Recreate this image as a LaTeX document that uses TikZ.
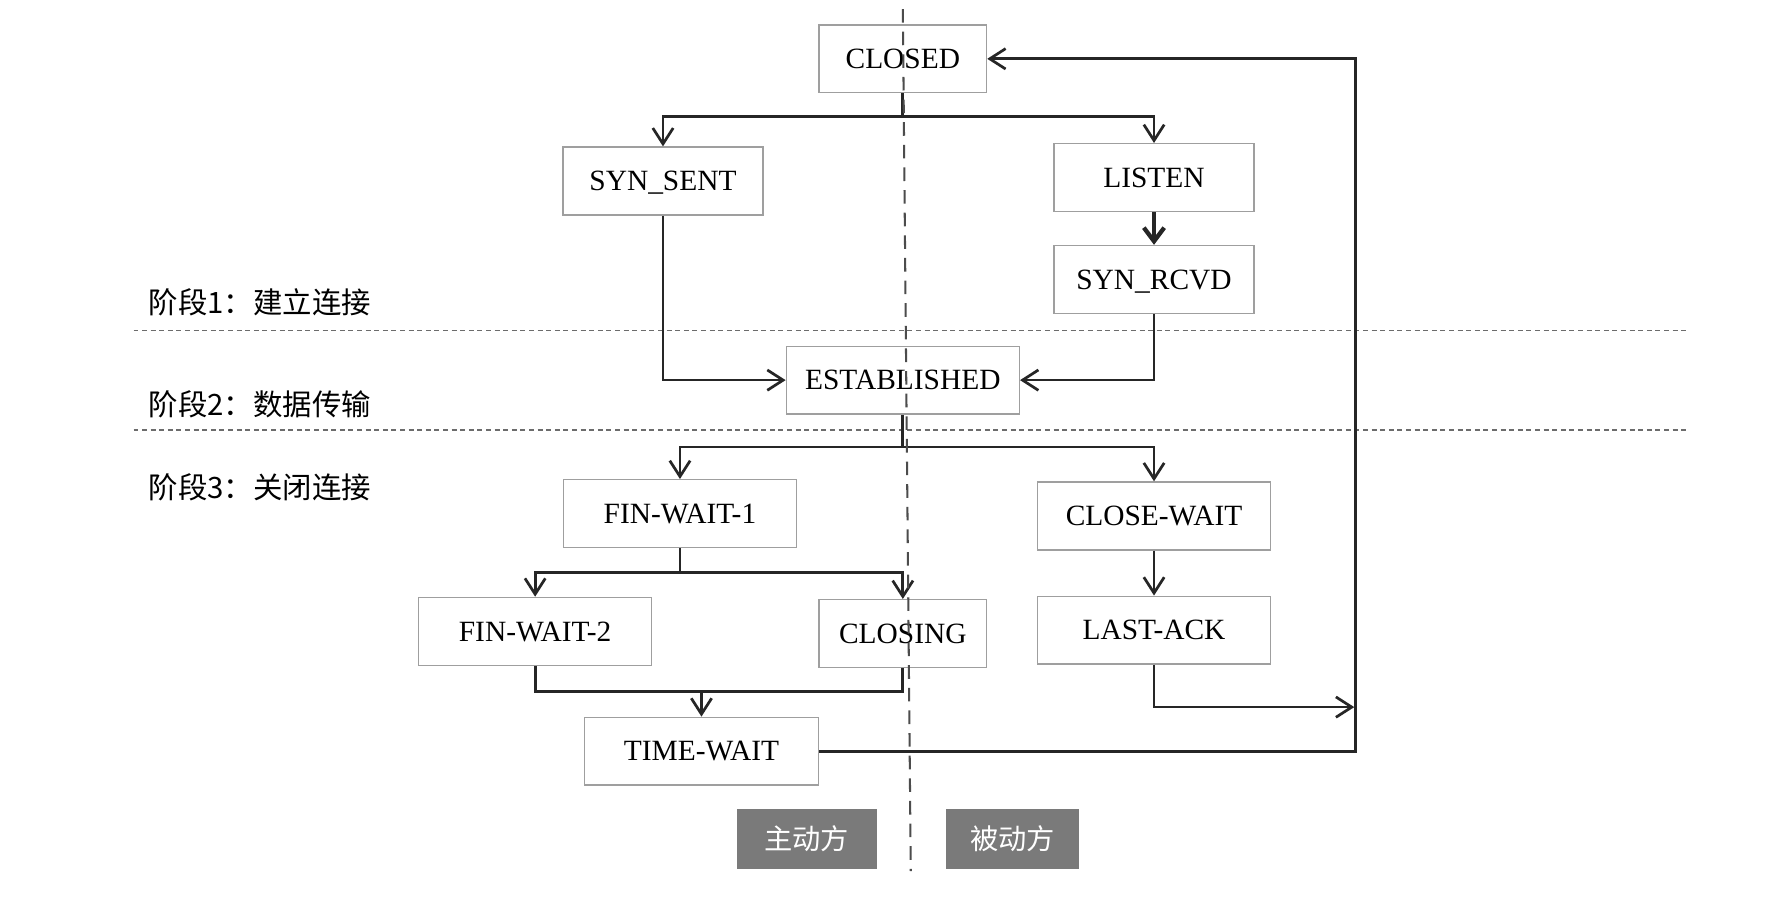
\documentclass[tikz,border=0pt]{standalone}
\usepackage{fontspec}
\setmainfont{Liberation Serif}
\newfontfamily\cjk{Noto Sans CJK SC}
\usetikzlibrary{arrows.meta}
\begin{document}
\begin{tikzpicture}[x=0.5pt,y=-0.5pt,
  state/.style={draw=gray!75,line width=0.6pt,fill=white,minimum height=30pt,inner sep=0pt,text depth=0pt,font=\fontsize{13}{15}\selectfont},
  conn/.style={line width=1.2pt,draw=black!85},
  arr/.style={conn,-{Straight Barb[length=7pt,width=9pt,line width=1.2pt]}},
  bigarr/.style={line width=1.9pt,draw=black!85,-{Straight Barb[length=6pt,width=9pt,line width=1.9pt]}},
  phase/.style={draw=gray!85!black,line width=0.55pt,dash pattern=on 2.2pt off 1.6pt},
  divider/.style={draw=black!70,line width=0.9pt,dash pattern=on 6pt off 4pt},
  stage/.style={anchor=west,inner sep=0pt,font=\cjk\fontsize{13}{15}\selectfont},
  role/.style={fill=black!52,text=white,minimum height=26.5pt,inner sep=0pt,font=\cjk\fontsize{12.5}{15}\selectfont}]
\useasboundingbox (0,0) rectangle (1568,795);
\fill[white] (0,0) rectangle (1568,795);

% phase separators
\draw[phase] (118,292) -- (1492,292);
\draw[phase] (118,380) -- (1492,380);

% stage labels
\node[stage] (s1) at (131,267) {阶段1：建立连接};
\node[stage] (s2) at (131,357) {阶段2：数据传输};
\node[stage] (s3) at (131,431) {阶段3：关闭连接};

% states
\node[state,minimum width=74pt] (closed) at (798,52) {CLOSED};
\node[state,minimum width=88.5pt] (synsent) at (586,160) {SYN\_SENT};
\node[state,minimum width=88.5pt] (listen) at (1020,157) {LISTEN};
\node[state,minimum width=88.5pt] (synrcvd) at (1020,247) {SYN\_RCVD};
\node[state,minimum width=103pt] (est) at (798,336) {ESTABLISHED};
\node[state,minimum width=103pt] (fw1) at (601,454) {FIN-WAIT-1};
\node[state,minimum width=103pt] (cw) at (1020,456) {CLOSE-WAIT};
\node[state,minimum width=103pt] (fw2) at (473,558) {FIN-WAIT-2};
\node[state,minimum width=74pt] (closing) at (798,560) {CLOSING};
\node[state,minimum width=103pt] (lastack) at (1020,557) {LAST-ACK};
\node[state,minimum width=103.5pt] (tw) at (620,664) {TIME-WAIT};

% role boxes
\node[role,minimum width=62pt] (active) at (713,741.5) {主动方};
\node[role,minimum width=59pt] (passive) at (895,741.5) {被动方};

% branch coordinates
\coordinate (b1) at (798,103);
\coordinate (b2) at (798,395);
\coordinate (b3) at (601,506);
\coordinate (m1) at (620,611);
\coordinate (ra) at (1197,625);
\coordinate (rr) at (1198,300);

% connectors
\draw[conn] (closed.south) -- (b1);
\draw[arr] (b1) -| (synsent.north);
\draw[arr] (b1) -| (listen.north);
\draw[bigarr] (listen.south) -- (synrcvd.north);
\draw[arr] (synsent.south) |- (est.west);
\draw[arr] (synrcvd.south) |- (est.east);
\draw[conn] (est.south) -- (b2);
\draw[arr] (b2) -| (fw1.north);
\draw[arr] (b2) -| (cw.north);
\draw[conn] (fw1.south) -- (b3);
\draw[arr] (b3) -| (fw2.north);
\draw[arr] (b3) -| (closing.north);
\draw[arr] (cw.south) -- (lastack.north);
\draw[conn] (fw2.south) |- (m1);
\draw[conn] (closing.south) |- (m1);
\draw[arr] (m1) -- (tw.north);
\draw[arr] (lastack.south) |- (ra);
\draw[arr] (tw.east) -| (rr) |- (closed.east);

% vertical divider
\draw[divider] (798,8) -- (805,770);
\end{tikzpicture}
\end{document}
